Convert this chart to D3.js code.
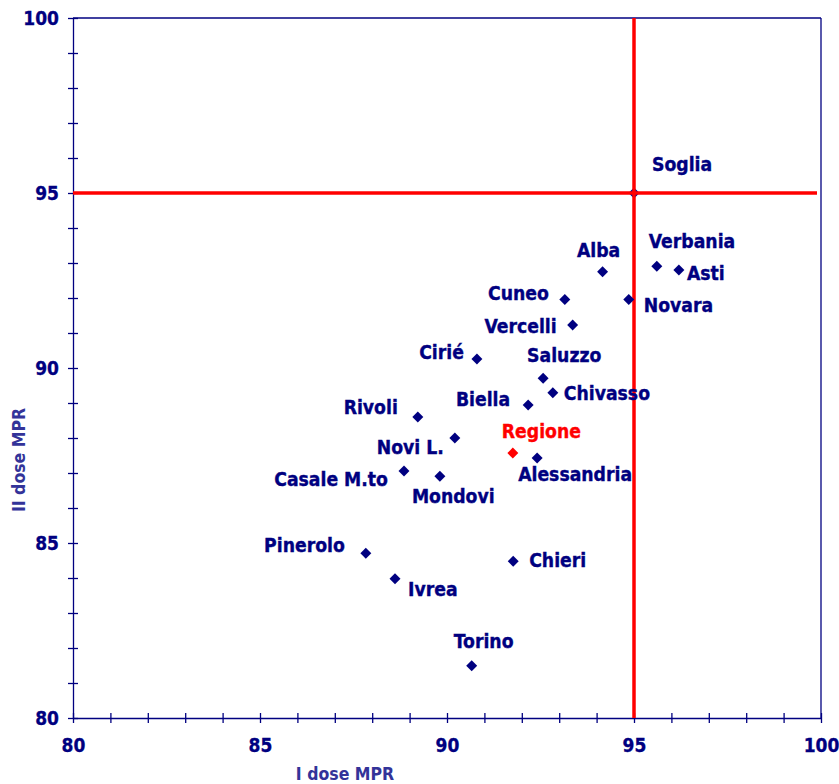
<!DOCTYPE html>
<html>
<head>
<meta charset="utf-8">
<script src="https://cdn.jsdelivr.net/npm/d3@7"></script>
<style>
  html, body { margin: 0; padding: 0; background: #fff; }
  svg { display: block; }
  text { font-family: 'DejaVu Sans Condensed', 'DejaVu Sans', sans-serif; font-stretch: condensed; font-weight: bold; }
</style>
</head>
<body>
<svg id="chart" width="839" height="784"></svg>
<script>
// ---- data ----
const names = ["Alba","Verbania","Asti","Cuneo","Novara","Vercelli","Cirié","Saluzzo","Chivasso","Biella",
               "Rivoli","Novi L.","Alessandria","Casale M.to","Mondovi","Pinerolo","Ivrea","Chieri","Torino"];
const firstDose  = [94.16,95.61,96.20,93.15,94.86,93.36,90.80,92.57,92.83,92.17,
                    89.22,90.21,92.41,88.85,89.81,87.83,88.61,91.77,90.66];
const secondDose = [92.75,92.91,92.80,91.96,91.96,91.23,90.26,89.71,89.29,88.94,
                    88.60,88.00,87.43,87.06,86.91,84.71,83.98,84.48,81.49];
const regione = { name: "Regione", first: 91.76, second: 87.57 };
const soglia  = { name: "Soglia", first: 95, second: 95 };
const xTickLabels = [80, 85, 90, 95, 100];
const yTickLabels = [80, 85, 90, 95, 100];
const xTitle = "I dose MPR";
const yTitle = "II dose MPR";

// ---- label layout (styling only) ----
const labelLayout = {
  "Alba": ["middle", -4, -15], "Verbania": ["start", -8, -18], "Asti": ["start", 8, 10],
  "Cuneo": ["end", -16, 1], "Novara": ["start", 15, 13], "Vercelli": ["end", -16, 8],
  "Cirié": ["end", -13, 0], "Saluzzo": ["start", -16, -16], "Chivasso": ["start", 11, 7],
  "Biella": ["end", -18, 1], "Rivoli": ["end", -20, -3], "Novi L.": ["end", -11, 16],
  "Alessandria": ["start", -19, 23], "Casale M.to": ["end", -16, 15], "Mondovi": ["start", -28, 27],
  "Pinerolo": ["end", -21, -1], "Ivrea": ["start", 13, 17], "Chieri": ["start", 16, 6],
  "Torino": ["middle", 12, -18], "Regione": ["start", -11, -15], "Soglia": ["start", 18, -22]
};

const navy = "#000080";
const titleColor = "#333399";

const svg = d3.select("#chart");
const L = 73, R = 821, T = 18, B = 718;
const x = d3.scaleLinear().domain([80, 100]).range([L, R]);
const y = d3.scaleLinear().domain([80, 100]).range([B, T]);

// frame (top and right)
svg.append("line").attr("x1", L).attr("x2", R).attr("y1", T).attr("y2", T)
  .attr("stroke", navy).attr("stroke-width", 1.3);
svg.append("line").attr("x1", R).attr("x2", R).attr("y1", T).attr("y2", B)
  .attr("stroke", navy).attr("stroke-width", 1.3);

// x axis
const xAxis = svg.append("g").attr("transform", `translate(0,${B})`)
  .call(d3.axisBottom(x).tickValues(d3.range(80, 101, 1)).tickSize(5).tickSizeOuter(0)
    .tickFormat(d => xTickLabels.includes(d) ? d : ""));
xAxis.select(".domain").attr("stroke", navy).attr("stroke-width", 1.3);
xAxis.selectAll(".tick line").attr("stroke", navy).attr("stroke-width", 1.3).attr("y1", -5).attr("y2", 5);
xAxis.selectAll(".tick text").attr("fill", navy).attr("font-family", null)
  .attr("font-size", 19).attr("y", 34).attr("dy", 0)
  .attr("stroke", navy).attr("stroke-width", 0.3);

// y axis
const yAxis = svg.append("g").attr("transform", `translate(${L},0)`)
  .call(d3.axisLeft(y).tickValues(d3.range(80, 101, 1)).tickSize(5).tickSizeOuter(0)
    .tickFormat(d => yTickLabels.includes(d) ? d : ""));
yAxis.select(".domain").attr("stroke", navy).attr("stroke-width", 1.3);
yAxis.selectAll(".tick line").attr("stroke", navy).attr("stroke-width", 1.3).attr("x1", 5).attr("x2", -5);
yAxis.selectAll(".tick text").attr("fill", navy).attr("font-family", null)
  .attr("font-size", 19).attr("x", -14).attr("dy", "0.36em")
  .attr("stroke", navy).attr("stroke-width", 0.3);

// axis titles
svg.append("text").attr("x", 345).attr("y", 780).attr("text-anchor", "middle")
  .attr("fill", titleColor).attr("font-size", 17.5)
  .text(xTitle);
svg.append("text").attr("transform", `translate(25,460) rotate(-90)`).attr("text-anchor", "middle")
  .attr("fill", titleColor).attr("font-size", 17.5)
  .text(yTitle);

const diamond = d3.symbol(d3.symbolSquare, 60);

// soglia marker (under lines)
svg.append("path").attr("d", diamond())
  .attr("transform", `translate(${x(soglia.first)},${y(soglia.second)}) rotate(45)`)
  .attr("fill", navy);

// threshold lines
svg.append("line").attr("x1", x(soglia.first)).attr("x2", x(soglia.first)).attr("y1", T).attr("y2", B)
  .attr("stroke", "#ff0000").attr("stroke-width", 3.5);
svg.append("line").attr("x1", L).attr("x2", R - 4).attr("y1", y(soglia.second)).attr("y2", y(soglia.second))
  .attr("stroke", "#ff0000").attr("stroke-width", 3.5);

// data points
const pts = names.map((n, i) => ({ name: n, first: firstDose[i], second: secondDose[i], color: navy }));
pts.push({ ...regione, color: "#ff0000" });

svg.selectAll("path.pt").data(pts).enter().append("path").attr("class", "pt")
  .attr("d", diamond())
  .attr("transform", d => `translate(${x(d.first)},${y(d.second)}) rotate(45)`)
  .attr("fill", d => d.color);

const allLabels = pts.concat([{ ...soglia, color: navy }]);
svg.selectAll("text.lbl").data(allLabels).enter().append("text").attr("class", "lbl")
  .attr("x", d => x(d.first) + labelLayout[d.name][1])
  .attr("y", d => y(d.second) + labelLayout[d.name][2])
  .attr("text-anchor", d => labelLayout[d.name][0])
  .attr("fill", d => d.color)
  .attr("stroke", d => d.color).attr("stroke-width", 0.35)
  .attr("font-size", 19.2)
  .text(d => d.name);
</script>
</body>
</html>
